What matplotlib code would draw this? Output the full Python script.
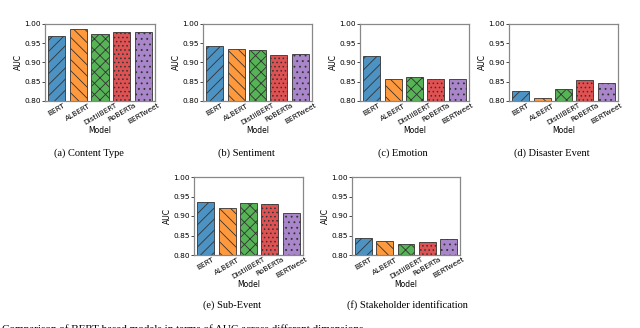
import matplotlib
matplotlib.use("Agg")
import matplotlib.pyplot as plt
from matplotlib.colors import to_rgba

models = ["BERT", "ALBERT", "DistilBERT", "RoBERTa", "BERTweet"]
content_type = [0.970, 0.987, 0.973, 0.980, 0.978]
sentiment = [0.944, 0.934, 0.932, 0.920, 0.922]
emotion = [0.917, 0.857, 0.862, 0.856, 0.857]
disaster_event = [0.827, 0.809, 0.831, 0.854, 0.848]
sub_event = [0.935, 0.920, 0.933, 0.930, 0.907]
stakeholder = [0.843, 0.836, 0.829, 0.833, 0.840]

captions = ["(a) Content Type", "(b) Sentiment", "(c) Emotion", "(d) Disaster Event",
            "(e) Sub-Event", "(f) Stakeholder identification"]
series = [content_type, sentiment, emotion, disaster_event, sub_event, stakeholder]

colors = ["tab:blue", "tab:orange", "tab:green", "tab:red", "tab:purple"]
hatches = ["///", "\\\\\\", "xxx", "....", "..."]

plt.rcParams["hatch.linewidth"] = 0.6

W, H = 640, 328
fig = plt.figure(figsize=(W / 100, H / 100), dpi=100)

# axes boxes in pixels: left, top, right, bottom
boxes = [(45, 24, 155, 101), (203, 24, 312, 101), (360, 24, 469, 101),
         (509, 24, 618, 101), (194, 177, 303, 255), (352, 177, 460, 255)]
cap_pos = [(89, 153), (246, 153), (403, 153), (552, 153), (232, 305), (407, 305)]


def blend(c, a=0.8):
    r, g, b, _ = to_rgba(c)
    return (1 - a + a * r, 1 - a + a * g, 1 - a + a * b)


for vals, box, cap, cp in zip(series, boxes, captions, cap_pos):
    l, t, r, b = box
    ax = fig.add_axes([l / W, 1 - b / H, (r - l) / W, (b - t) / H])
    x = range(len(models))
    ax.bar(x, [v - 0.8 for v in vals], bottom=0.8, width=0.8,
           color=[blend(c) for c in colors], edgecolor="#333333",
           linewidth=0.6, hatch=hatches)
    ax.set_ylim(0.8, 1.0)
    ax.set_xlim(-0.55, 4.55)
    ax.set_yticks([0.80, 0.85, 0.90, 0.95, 1.00])
    ax.set_yticklabels(["0.80", "0.85", "0.90", "0.95", "1.00"])
    ax.set_xticks(list(x))
    ax.set_xticklabels(models, rotation=30, ha="center")
    ax.tick_params(labelsize=5.3, length=2, width=0.5, pad=1)
    ax.tick_params(axis="x", length=0, pad=1)
    ax.set_ylabel("AUC", fontsize=5.5, labelpad=1)
    ax.set_xlabel("Model", fontsize=5.5, labelpad=0)
    for s in ax.spines.values():
        s.set_color("#888888")
        s.set_linewidth(0.9)
    fig.text(cp[0] / W, 1 - cp[1] / H, cap, family="Liberation Serif",
             fontsize=7.5, ha="center", va="center")

fig.text(2 / W, -4 / H,
         "Comparison of BERT-based models in terms of AUC across different dimensions.",
         family="Liberation Serif", fontsize=8, ha="left", va="baseline")

fig.savefig("out.png", dpi=100)
